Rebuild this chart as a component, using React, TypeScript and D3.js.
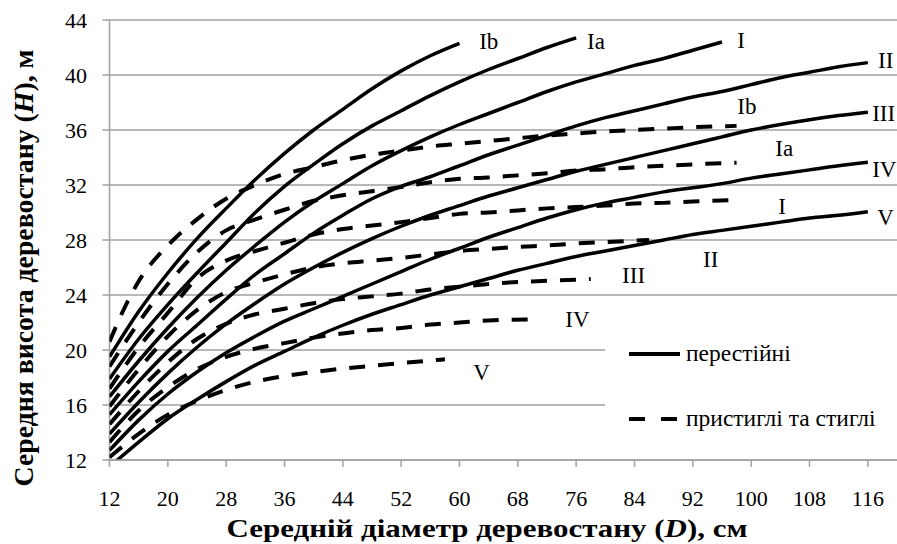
import React from "react";
import * as d3 from "d3";

type Pt = [number, number];

// Solid curves: перестійні (over-mature stands), [D cm, H m]
const solidIb: Pt[] = [[12,19.5],[16,22.8],[20,25.6],[24,28.1],[28,30.3],[32,32.4],[36,34.3],[40,36.0],[44,37.5],[48,39.0],[52,40.3],[56,41.4],[60,42.3]];
const solidIa: Pt[] = [[12,17.9],[16,20.8],[20,23.3],[24,25.6],[28,27.8],[32,30.0],[36,31.9],[40,33.5],[44,35.0],[48,36.3],[52,37.4],[56,38.5],[60,39.5],[64,40.4],[68,41.2],[72,42.0],[76,42.7]];
const solidI: Pt[] = [[12,16.6],[16,19.2],[20,21.6],[24,23.8],[28,25.8],[32,27.6],[36,29.3],[40,30.8],[44,32.1],[48,33.4],[52,34.5],[56,35.5],[60,36.4],[64,37.2],[68,38.0],[72,38.8],[76,39.5],[80,40.1],[84,40.7],[88,41.2],[92,41.8],[96,42.4]];
const solidII: Pt[] = [[12,15.3],[16,17.7],[20,19.9],[24,21.8],[28,23.7],[32,25.5],[36,27.0],[40,28.5],[44,29.8],[48,31.0],[52,31.9],[56,32.6],[60,33.4],[64,34.2],[68,34.9],[72,35.6],[76,36.3],[80,36.9],[84,37.4],[88,37.9],[92,38.4],[96,38.8],[100,39.3],[104,39.8],[108,40.2],[112,40.6],[116,40.9]];
const solidIII: Pt[] = [[12,13.9],[16,16.2],[20,18.3],[24,20.2],[28,21.9],[32,23.4],[36,24.8],[40,26.0],[44,27.1],[48,28.1],[52,29.0],[56,29.8],[60,30.5],[64,31.2],[68,31.8],[72,32.4],[76,33.0],[80,33.5],[84,34.0],[88,34.5],[92,35.0],[96,35.5],[100,36.0],[104,36.4],[108,36.75],[112,37.05],[116,37.3]];
const solidIV: Pt[] = [[12,12.7],[16,14.9],[20,16.8],[24,18.4],[28,19.8],[32,21.0],[36,22.1],[40,23.0],[44,23.9],[48,24.8],[52,25.7],[56,26.6],[60,27.4],[64,28.2],[68,28.9],[72,29.6],[76,30.2],[80,30.7],[84,31.1],[88,31.5],[92,31.8],[96,32.1],[100,32.5],[104,32.8],[108,33.1],[112,33.4],[116,33.65]];
const solidV: Pt[] = [[12,11.5],[16,13.3],[20,15.0],[24,16.4],[28,17.7],[32,18.9],[36,19.9],[40,20.9],[44,21.8],[48,22.6],[52,23.3],[56,24.0],[60,24.6],[64,25.2],[68,25.8],[72,26.3],[76,26.8],[80,27.2],[84,27.6],[88,28.0],[92,28.4],[96,28.7],[100,29.0],[104,29.3],[108,29.6],[112,29.8],[116,30.06]];

// Dashed curves: пристиглі та стиглі
const dashIb: Pt[] = [[12,20.6],[14,23.0],[16,25.0],[20,27.6],[24,29.5],[28,31.0],[32,32.0],[36,32.8],[40,33.3],[44,33.8],[48,34.2],[52,34.5],[56,34.8],[60,35.0],[64,35.2],[68,35.4],[72,35.6],[76,35.75],[80,35.9],[84,36.0],[88,36.1],[92,36.2],[98,36.3]];
const dashIa: Pt[] = [[12,18.8],[16,22.0],[20,24.8],[24,27.1],[28,28.7],[32,29.5],[36,30.2],[40,30.85],[44,31.25],[48,31.55],[52,31.85],[56,32.2],[60,32.45],[64,32.55],[68,32.7],[72,32.85],[76,33.05],[80,33.15],[84,33.3],[88,33.4],[92,33.5],[98,33.62]];
const dashI: Pt[] = [[12,17.2],[16,20.2],[20,22.7],[24,25.2],[28,26.5],[32,27.2],[36,27.8],[40,28.4],[44,28.8],[48,29.05],[52,29.3],[56,29.6],[60,29.9],[64,30.0],[68,30.15],[72,30.3],[76,30.4],[80,30.5],[84,30.65],[88,30.7],[92,30.8],[98,30.9]];
const dashII: Pt[] = [[12,15.9],[16,18.6],[20,21.0],[24,22.9],[28,24.2],[32,24.9],[36,25.5],[40,26.0],[44,26.3],[48,26.5],[52,26.7],[56,26.95],[60,27.2],[64,27.35],[68,27.5],[72,27.6],[76,27.75],[80,27.85],[86,28.0]];
const dashIII: Pt[] = [[12,14.6],[16,17.0],[20,19.1],[24,20.8],[28,21.9],[32,22.6],[36,23.0],[40,23.4],[44,23.7],[48,23.9],[52,24.1],[56,24.4],[60,24.6],[64,24.8],[68,24.95],[72,25.03],[78,25.16]];
const dashIV: Pt[] = [[12,13.3],[16,15.6],[20,17.3],[24,18.6],[28,19.5],[32,20.1],[36,20.5],[40,20.9],[44,21.2],[48,21.45],[52,21.6],[56,21.85],[60,22.0],[64,22.15],[70,22.23]];
const dashV: Pt[] = [[12,12.2],[16,13.9],[20,15.3],[24,16.3],[28,17.1],[32,17.7],[36,18.1],[40,18.4],[44,18.65],[48,18.85],[52,19.05],[58,19.32]];

const solidSeries = [solidIb, solidIa, solidI, solidII, solidIII, solidIV, solidV];
const dashSeries = [dashIb, dashIa, dashI, dashII, dashIII, dashIV, dashV];

const classNames = ["Ib", "Ia", "I", "II", "III", "IV", "V"];
// label anchor points (D, H) for curve labels
const solidLabelPos: Pt[] = [[62.7,42.4],[77.5,42.4],[98.1,42.45],[117.4,41.0],[116.6,37.15],[116.6,33.1],[117.3,29.6]];
const dashLabelPos: Pt[] = [[98.1,37.65],[103.3,34.6],[103.7,30.4],[93.4,26.55],[82.3,25.4],[74.5,22.2],[61.9,18.35]];

const xTicks = [12, 20, 28, 36, 44, 52, 60, 68, 76, 84, 92, 100, 108, 116];
const yTicks = [12, 16, 20, 24, 28, 32, 36, 40, 44];

const legendLabels = ["перестійні", "пристиглі та стиглі"];

export default function App() {
  const W = 897, H = 544;
  const left = 109.5, right = 897, top = 20, bottom = 460;
  const x = d3.scaleLinear().domain([12, 120]).range([left, right]);
  const y = d3.scaleLinear().domain([12, 44]).range([bottom, top]);
  const line = d3.line<Pt>().x(d => x(d[0])).y(d => y(d[1])).curve(d3.curveMonotoneX);
  const font = "'Liberation Serif', 'Times New Roman', serif";
  const grid = "#a0a0a0";

  return (
    <svg width={W} height={H} style={{ position: "absolute", left: 0, top: 0, background: "#fff" }} fontFamily={font}>
      <rect x={0} y={0} width={W} height={H} fill="#fff" />
      <defs>
        <clipPath id="plot">
          <rect x={left} y={top - 2} width={right - left} height={bottom - top + 2} />
        </clipPath>
      </defs>
      {yTicks.map(t => (
        <g key={"y" + t}>
          <line x1={left - 7} x2={right} y1={y(t)} y2={y(t)} stroke={grid} strokeWidth={1.5} />
          <text x={87} y={y(t) + 7.5} fontSize={22} textAnchor="end">{t}</text>
        </g>
      ))}
      <line x1={left} x2={left} y1={top} y2={bottom} stroke={grid} strokeWidth={1.5} />
      {xTicks.map(t => (
        <g key={"x" + t}>
          <line x1={x(t)} x2={x(t)} y1={bottom} y2={bottom + 7} stroke={grid} strokeWidth={1.5} />
          <text x={x(t)} y={506} fontSize={22} textAnchor="middle">{t}</text>
        </g>
      ))}
      <g clipPath="url(#plot)">
        {solidSeries.map((s, i) => (
          <path key={"s" + i} d={line(s) || ""} fill="none" stroke="#000" strokeWidth={3.5} strokeLinejoin="round" />
        ))}
        {dashSeries.map((s, i) => (
          <path key={"d" + i} d={line(s) || ""} fill="none" stroke="#000" strokeWidth={4} strokeDasharray="16 13" />
        ))}
      </g>
      {/* legend box */}
      <rect x={605} y={310} width={292} height={140} fill="#fff" />
      <line x1={629} x2={680} y1={354} y2={354} stroke="#000" strokeWidth={4} />
      <text x={686} y={361} fontSize={23.5}>{legendLabels[0]}</text>
      <line x1={629} x2={678} y1={419} y2={419} stroke="#000" strokeWidth={4} strokeDasharray="16 16" />
      <text x={686} y={426} fontSize={23.5}>{legendLabels[1]}</text>
      <line x1={left} x2={right} y1={bottom} y2={bottom} stroke={grid} strokeWidth={1.5} />
      {solidLabelPos.map((p, i) => (
        <text key={"sl" + i} x={x(p[0])} y={y(p[1]) + 7} fontSize={23}>{classNames[i]}</text>
      ))}
      {dashLabelPos.map((p, i) => (
        <text key={"dl" + i} x={x(p[0])} y={y(p[1]) + 7} fontSize={23}>{classNames[i]}</text>
      ))}
      <text x={487} y={537} fontSize={26} fontWeight="bold" textAnchor="middle" textLength={521} lengthAdjust="spacingAndGlyphs">
        Середній діаметр деревостану (<tspan fontStyle="italic">D</tspan>), см
      </text>
      <text transform="translate(33,268) rotate(-90)" fontSize={27} fontWeight="bold" textAnchor="middle" textLength={437} lengthAdjust="spacingAndGlyphs">
        Середня висота деревостану (<tspan fontStyle="italic">H</tspan>), м
      </text>
    </svg>
  );
}
